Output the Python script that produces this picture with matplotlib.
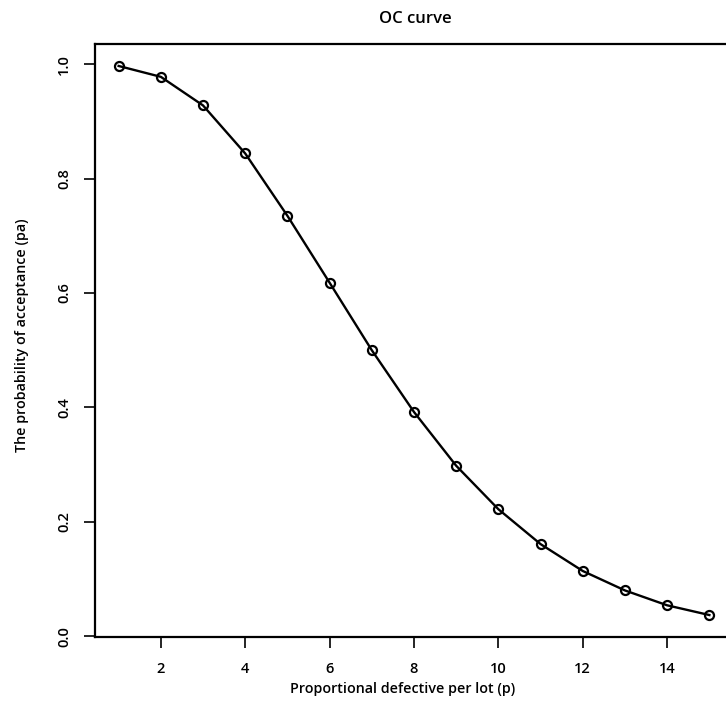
import matplotlib
matplotlib.use("Agg")
import matplotlib.pyplot as plt
import numpy as np

p_values = [1, 2, 3, 4, 5, 6, 7, 8, 9, 10, 11, 12, 13, 14, 15]
pa_values = [0.997, 0.978, 0.928, 0.844, 0.735, 0.618, 0.500, 0.392,
             0.298, 0.222, 0.161, 0.114, 0.080, 0.054, 0.037]
x_ticks = [2, 4, 6, 8, 10, 12, 14]
y_ticks = [0.0, 0.2, 0.4, 0.6, 0.8, 1.0]
title = "OC curve"
xlabel = "Proportional defective per lot (p)"
ylabel = "The probability of acceptance (pa)"

plt.rcParams['font.family'] = ['Open Sans', 'DejaVu Sans']
plt.rcParams['font.weight'] = 'semibold'

W, H = 726, 721
fig = plt.figure(figsize=(W / 100, H / 100), dpi=100)
left, right, top, bottom = 95, 733, 44, 637
ax = fig.add_axes([left / W, 1 - bottom / H, (right - left) / W, (bottom - top) / H])

ax.plot(p_values, pa_values, color='black', lw=1.7, marker='o', ms=6.5,
        mfc='none', mec='black', mew=1.6)

xr = max(p_values) - min(p_values)
ax.set_xlim(min(p_values) - 0.04 * xr, max(p_values) + 0.04 * xr)
yr = max(pa_values) - min(pa_values)
ax.set_ylim(min(pa_values) - 0.04 * yr, max(pa_values) + 0.04 * yr)

ax.set_xticks(x_ticks)
ax.set_xticklabels([str(t) for t in x_ticks])
ax.set_yticks(y_ticks)
ax.set_yticklabels([f"{t:.1f}" for t in y_ticks], rotation=90, va='center')

ax.tick_params(axis='both', direction='out', length=8, width=1.2, labelsize=10.5,
               colors='black')
ax.tick_params(axis='x', pad=10)
ax.tick_params(axis='y', pad=9)

for s in ax.spines.values():
    s.set_linewidth(1.6)
    s.set_color('black')

fig.text(415 / W, 1 - 19 / H, title, ha='center', va='center', fontsize=12)
fig.text(403 / W, 1 - 689 / H, xlabel, ha='center', va='center', fontsize=10.3)
fig.text(22 / W, 1 - 335 / H, ylabel, ha='center', va='center', rotation=90,
         fontsize=10.3)

fig.savefig("out.png", dpi=100)
